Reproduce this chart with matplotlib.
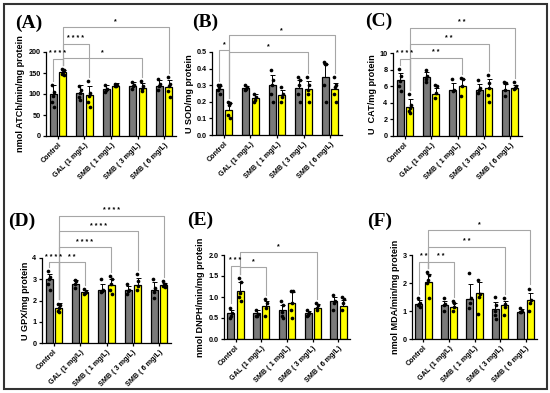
import matplotlib
matplotlib.use("Agg")
import matplotlib.pyplot as plt
import numpy as np
from matplotlib.patches import Rectangle

plt.rcParams["font.family"] = ["Liberation Sans", "DejaVu Sans"]
plt.rcParams["font.weight"] = "bold"

groups = ["Control", "GAL (1 mg/L)", "SMB ( 1 mg/L)", "SMB ( 3 mg/L)", "SMB ( 6 mg/L)"]

# ---- panel data (grey bars / yellow bars) ----
a_grey = [100, 103, 112, 118, 118]
a_yellow = [152, 98, 120, 115, 116]
a_grey_sd = [22, 18, 10, 10, 15]
a_yellow_sd = [6, 20, 6, 12, 18]
a_grey_pts = [[122, 104, 96, 80, 70], [120, 110, 102, 92, 85], [122, 112, 110, 105],
              [128, 122, 118, 112], [136, 125, 118, 110]]
a_yellow_pts = [[160, 156, 152, 148, 146], [130, 102, 95, 80, 70], [125, 122, 120, 118],
                [130, 118, 112, 108], [140, 125, 118, 108, 92]]

b_grey = [0.276, 0.284, 0.30, 0.284, 0.35]
b_yellow = [0.15, 0.22, 0.24, 0.276, 0.276]
b_grey_sd = [0.02, 0.012, 0.06, 0.05, 0.08]
b_yellow_sd = [0.04, 0.025, 0.03, 0.05, 0.04]
b_grey_pts = [[0.30, 0.30, 0.29, 0.27, 0.25], [0.30, 0.29, 0.28, 0.27], [0.39, 0.33, 0.30, 0.25, 0.20],
              [0.35, 0.33, 0.30, 0.25, 0.20], [0.44, 0.43, 0.43, 0.30, 0.20]]
b_yellow_pts = [[0.20, 0.19, 0.18, 0.12, 0.10], [0.25, 0.23, 0.21, 0.20], [0.29, 0.25, 0.23, 0.20],
                [0.35, 0.30, 0.27, 0.25, 0.20], [0.35, 0.30, 0.29, 0.25, 0.20]]

c_grey = [6.7, 7.1, 5.5, 5.6, 5.5]
c_yellow = [3.5, 5.1, 6.0, 5.8, 5.8]
c_grey_sd = [0.9, 0.6, 0.9, 0.7, 0.8]
c_yellow_sd = [0.9, 0.7, 0.9, 1.1, 0.3]
c_grey_pts = [[8.1, 7.2, 6.6, 6.0, 5.4], [8.0, 7.2, 6.9, 6.5], [6.9, 5.6, 5.4],
              [6.7, 5.8, 5.5, 5.2], [6.5, 6.4, 5.5, 4.8]]
c_yellow_pts = [[5.1, 3.7, 3.4, 3.0, 2.8], [6.2, 6.0, 5.2, 4.6], [7.0, 6.9, 6.0, 4.8],
                [7.3, 6.4, 5.8, 5.0, 4.1], [6.5, 6.0, 5.8, 5.7]]

d_grey = [3.0, 2.78, 2.5, 2.5, 2.5]
d_yellow = [1.67, 2.38, 2.72, 2.75, 2.72]
d_grey_sd = [0.25, 0.18, 0.3, 0.2, 0.35]
d_yellow_sd = [0.2, 0.1, 0.3, 0.3, 0.1]
d_grey_pts = [[3.4, 3.1, 3.0, 2.8, 2.5], [2.95, 2.9, 2.8, 2.6], [3.0, 2.5, 2.45, 2.4],
              [2.8, 2.5, 2.45, 2.3], [3.0, 2.6, 2.4, 2.1]]
d_yellow_pts = [[1.85, 1.8, 1.65, 1.5, 1.45], [2.55, 2.4, 2.35, 2.3], [3.15, 3.0, 2.8, 2.5, 2.3],
                [3.25, 2.9, 2.7, 2.5], [2.9, 2.8, 2.75, 2.7, 2.65]]

e_grey = [0.61, 0.62, 0.69, 0.61, 0.9]
e_yellow = [1.15, 0.79, 0.86, 0.75, 0.79]
e_grey_sd = [0.08, 0.07, 0.13, 0.06, 0.1]
e_yellow_sd = [0.2, 0.12, 0.25, 0.08, 0.15]
e_grey_pts = [[0.75, 0.62, 0.55, 0.5], [0.7, 0.6, 0.55, 0.55], [0.9, 0.8, 0.65, 0.55, 0.5],
              [0.68, 0.62, 0.58, 0.55], [1.05, 0.9, 0.85, 0.7]]
e_yellow_pts = [[1.45, 1.35, 1.1, 1.0, 0.9], [0.95, 0.85, 0.75, 0.55], [1.15, 1.15, 0.85, 0.7, 0.5],
                [0.85, 0.8, 0.75, 0.7], [1.0, 0.95, 0.85, 0.7]]

f_grey = [1.25, 1.22, 1.42, 1.07, 0.98]
f_yellow = [2.03, 1.13, 1.63, 1.2, 1.38]
f_grey_sd = [0.15, 0.15, 0.55, 0.25, 0.08]
f_yellow_sd = [0.3, 0.15, 0.4, 0.15, 0.25]
f_grey_pts = [[1.45, 1.3, 1.25, 1.2, 1.15], [1.45, 1.25, 1.2, 1.0], [2.35, 1.45, 1.3, 1.1],
              [1.5, 1.2, 1.0, 0.85, 0.7], [1.1, 1.0, 0.98, 0.95]]
f_yellow_pts = [[2.4, 2.3, 2.1, 2.0, 1.45], [1.35, 1.3, 1.15, 1.0], [2.1, 1.6, 1.5, 0.9],
                [1.45, 1.25, 1.15, 0.85], [1.8, 1.4, 1.3, 1.0]]

# significance: (group_a, bar_a, group_b, bar_b, line height, stars)  bar 0 = grey, 1 = yellow
a_sig = [(0, 0, 0, 1, 184, "****"), (0, 1, 1, 1, 220, "****"), (0, 1, 3, 1, 186, "*"), (0, 1, 4, 1, 260, "*")]
b_sig = [(0, 0, 0, 1, 0.51, "*"), (0, 1, 3, 1, 0.50, "*"), (0, 1, 4, 1, 0.60, "*")]
c_sig = [(0, 0, 0, 1, 9.3, "****"), (0, 1, 2, 1, 9.4, "**"), (0, 1, 3, 1, 11.1, "**"), (0, 1, 4, 1, 13.0, "**")]
d_sig = [(0, 0, 0, 1, 3.8, "****"), (0, 1, 1, 1, 3.8, "**"), (0, 1, 2, 1, 4.5, "****"),
         (0, 1, 3, 1, 5.25, "****"), (0, 1, 4, 1, 6.0, "****")]
e_sig = [(0, 0, 0, 1, 1.74, "***"), (0, 1, 1, 1, 1.72, "*"), (0, 1, 3, 1, 2.08, "*")]
f_sig = [(0, 0, 0, 1, 2.76, "**"), (0, 1, 1, 1, 2.76, "**"), (0, 1, 3, 1, 3.3, "**"), (0, 1, 4, 1, 3.9, "*")]

panels = [
    ("(A)", "nmol ATCh/min/mg protein", (0, 200), [0, 50, 100, 150, 200], None,
     a_grey, a_yellow, a_grey_sd, a_yellow_sd, a_grey_pts, a_yellow_pts, a_sig, (46, 52, 130, 84), (15, 23)),
    ("(B)", "U SOD/mg protein", (0, 0.5), [0, 0.1, 0.2, 0.3, 0.4, 0.5], "%.1f",
     b_grey, b_yellow, b_grey_sd, b_yellow_sd, b_grey_pts, b_yellow_pts, b_sig, (212, 52, 130, 83), (192, 22)),
    ("(C)", "U  CAT/mg protein", (0, 10), [0, 2, 4, 6, 8, 10], None,
     c_grey, c_yellow, c_grey_sd, c_yellow_sd, c_grey_pts, c_yellow_pts, c_sig, (393, 53, 129, 83), (365, 21)),
    ("(D)", "U GPX/mg protein", (0, 4), [0, 1, 2, 3, 4], None,
     d_grey, d_yellow, d_grey_sd, d_yellow_sd, d_grey_pts, d_yellow_pts, d_sig, (42, 258, 129, 85), (8, 221)),
    ("(E)", "nmol DNPH/min/mg protein", (0, 2), [0, 0.5, 1.0, 1.5, 2.0], "%.1f",
     e_grey, e_yellow, e_grey_sd, e_yellow_sd, e_grey_pts, e_yellow_pts, e_sig, (224, 255, 126, 84), (187, 220)),
    ("(F)", "nmol MDA/min/mg protein", (0, 3), [0, 1, 2, 3], None,
     f_grey, f_yellow, f_grey_sd, f_yellow_sd, f_grey_pts, f_yellow_pts, f_sig, (412, 255, 125, 84), (367, 221)),
]

W, H = 550, 393
fig = plt.figure(figsize=(W / 100, H / 100), dpi=100)
fig.patches.append(Rectangle((4 / W, 1 - 389 / H), 543 / W, 385 / H, transform=fig.transFigure,
                             fill=False, edgecolor="#333333", linewidth=1.5))

GREY = "#7A7A7A"
YELLOW = "#FFFF00"
off = 0.18
bw = 0.27
jit = [-0.035, 0.035, 0.0, -0.03, 0.03]

for (lab, ylab, ylim, yticks, fmt, gm, ym, gsd, ysd, gpts, ypts, sig, box, labpos) in panels:
    l, t, w, h = box
    ax = fig.add_axes([l / W, 1 - (t + h) / H, w / W, h / H])
    x = np.arange(len(groups))
    tops = {}
    for k, (means, sds, pts, col) in enumerate([(gm, gsd, gpts, GREY), (ym, ysd, ypts, YELLOW)]):
        xs = x + (-off if k == 0 else off)
        ax.bar(xs, means, width=bw, color=col, edgecolor="black", linewidth=0.9, zorder=2)
        ax.errorbar(xs, means, yerr=[np.zeros(len(sds)), sds], fmt="none", ecolor="black",
                    elinewidth=0.7, capsize=1.8, capthick=0.7, zorder=3)
        for i, p in enumerate(pts):
            ax.scatter(xs[i] + np.array(jit[:len(p)]), p, s=7, color="black", zorder=4,
                       linewidths=0, clip_on=False)
            tops[(i, k)] = (xs[i], max(max(p), means[i] + sds[i]))
    ax.set_xlim(-0.45, 4.45)
    ax.set_ylim(*ylim)
    ax.set_yticks(yticks)
    if fmt:
        ax.set_yticklabels([fmt % v for v in yticks])
    ax.set_xticks(x)
    ax.set_xticklabels(groups, rotation=45, ha="right", rotation_mode="anchor", fontsize=5.2,
                       fontweight="bold")
    ax.tick_params(axis="y", labelsize=5.2, length=2.5, width=0.9, pad=1.5)
    ax.tick_params(axis="x", length=2.5, width=0.9, pad=1.5)
    ax.set_ylabel(ylab, fontsize=6.6, fontweight="bold", labelpad=2)
    for sp in ["top", "right"]:
        ax.spines[sp].set_visible(False)
    for sp in ["left", "bottom"]:
        ax.spines[sp].set_linewidth(0.9)
    span = ylim[1] - ylim[0]
    for (g1, b1, g2, b2, yl, stars) in sig:
        x1, top1 = tops[(g1, b1)]
        x2, top2 = tops[(g2, b2)]
        ax.plot([x1, x1, x2, x2], [top1 + 0.05 * span, yl, yl, top2 + 0.05 * span],
                color="#A6A6A6", linewidth=0.8, clip_on=False, zorder=1)
        ax.text((x1 + x2) / 2, yl + 0.02 * span, " ".join(stars), ha="center", va="bottom",
                fontsize=5, color="black", clip_on=False)
    fig.text(labpos[0] / W, 1 - labpos[1] / H, lab, fontsize=14, fontweight="bold",
             family=["Liberation Serif", "DejaVu Serif"], ha="left", va="center")

fig.savefig("out.png", dpi=100)
